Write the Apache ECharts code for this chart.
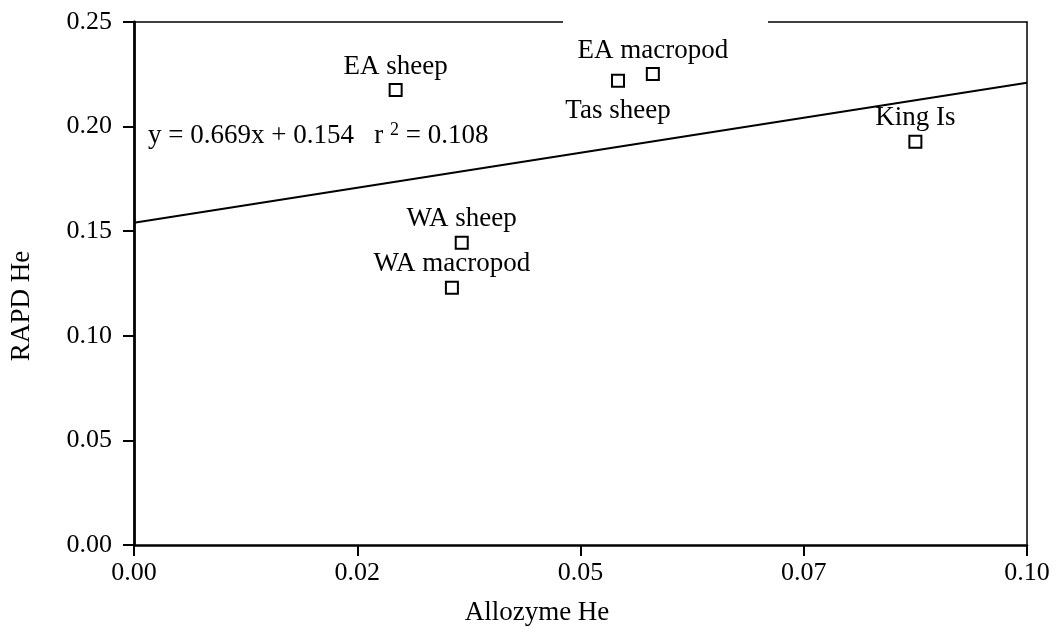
<!DOCTYPE html>
<html>
<head>
<meta charset="utf-8">
<script src="https://cdn.jsdelivr.net/npm/echarts@6/dist/echarts.min.js"></script>
<style>
html,body{margin:0;padding:0;background:#fff;}
#chart{width:1055px;height:627px;}
</style>
</head>
<body>
<div id="chart"></div>
<script>
// ---- data ----
const pointNames = ['EA sheep', 'Tas sheep', 'EA macropod', 'King Is', 'WA sheep', 'WA macropod'];
const allozymeHe = [0.0293, 0.0542, 0.0581, 0.0875, 0.0367, 0.0356];
const rapdHe     = [0.2175, 0.2219, 0.2251, 0.1928, 0.1445, 0.1230];
const labelBelow = [false, true, false, false, false, false];
const fitLineX = [0.0, 0.1];
const fitLineY = [0.154, 0.221];
const xTickLabels = ['0.00', '0.02', '0.05', '0.07', '0.10'];
const yTickLabels = ['0.00', '0.05', '0.10', '0.15', '0.20', '0.25'];
const equationText = 'y = 0.669x + 0.154   r {sup|2} = 0.108';
const xTitle = 'Allozyme He';
const yTitle = 'RAPD He';

const FONT = '"Liberation Serif", "Times New Roman", serif';
const chart = echarts.init(document.getElementById('chart'), null, {renderer: 'canvas'});

const scatterData = pointNames.map((n, i) => ({
  name: n,
  value: [allozymeHe[i], rapdHe[i]],
  label: labelBelow[i] ? {position: 'bottom', distance: 10} : {position: 'top', distance: 3}
}));

const option = {
  backgroundColor: '#fff',
  animation: false,
  grid: {left: 134, right: 28, top: 22, bottom: 82, containLabel: false},
  xAxis: [{
    type: 'value', min: 0, max: 0.1, interval: 0.025,
    axisLine: {show: true, onZero: false, lineStyle: {color: '#000', width: 2.5}},
    axisTick: {show: true, length: 11, lineStyle: {color: '#000', width: 2}},
    axisLabel: {
      color: '#000', fontFamily: FONT, fontSize: 26, margin: 15,
      formatter: (v) => xTickLabels[Math.round(v / 0.025)]
    },
    splitLine: {show: false}
  }, {
    type: 'value', position: 'top', min: 0, max: 0.1,
    axisLine: {show: true, onZero: false, lineStyle: {color: '#000', width: 1.5}},
    axisTick: {show: false}, axisLabel: {show: false}, splitLine: {show: false}
  }],
  yAxis: [{
    type: 'value', min: 0, max: 0.25, interval: 0.05,
    axisLine: {show: true, onZero: false, lineStyle: {color: '#000', width: 2.8}},
    axisTick: {show: true, length: 11, lineStyle: {color: '#000', width: 2}},
    axisLabel: {
      color: '#000', fontFamily: FONT, fontSize: 26, margin: 22,
      formatter: (v) => yTickLabels[Math.round(v / 0.05)]
    },
    splitLine: {show: false}
  }, {
    type: 'value', position: 'right', min: 0, max: 0.25,
    axisLine: {show: true, onZero: false, lineStyle: {color: '#000', width: 1.5}},
    axisTick: {show: false}, axisLabel: {show: false}, splitLine: {show: false}
  }],
  series: [{
    type: 'line',
    data: fitLineX.map((x, i) => [x, fitLineY[i]]),
    symbol: 'none',
    lineStyle: {color: '#000', width: 2},
    z: 2
  }, {
    type: 'scatter',
    data: scatterData,
    symbol: 'rect',
    symbolSize: 12,
    itemStyle: {color: '#fff', borderColor: '#000', borderWidth: 2, opacity: 1},
    label: {
      show: true, formatter: '{b}', color: '#000',
      fontFamily: FONT, fontSize: 27
    },
    z: 3
  }],
  graphic: [{
    type: 'rect', z: 100,
    shape: {x: 563, y: 15, width: 205, height: 14},
    style: {fill: '#fff'}
  }, {
    type: 'text', z: 100, x: 148, y: 136,
    style: {
      text: equationText,
      font: '27px ' + FONT,
      fill: '#000',
      verticalAlign: 'middle',
      rich: {sup: {fontSize: 18, fontFamily: FONT, fill: '#000', padding: [0, 0, 12, 0]}}
    }
  }, {
    type: 'text', z: 100, x: 537, y: 613,
    style: {text: xTitle, font: '27px ' + FONT, fill: '#000', align: 'center', verticalAlign: 'middle'}
  }, {
    type: 'text', z: 100, x: 22, y: 306, rotation: Math.PI / 2,
    style: {text: yTitle, font: '27px ' + FONT, fill: '#000', align: 'center', verticalAlign: 'middle'}
  }]
};
chart.setOption(option);
</script>
</body>
</html>
